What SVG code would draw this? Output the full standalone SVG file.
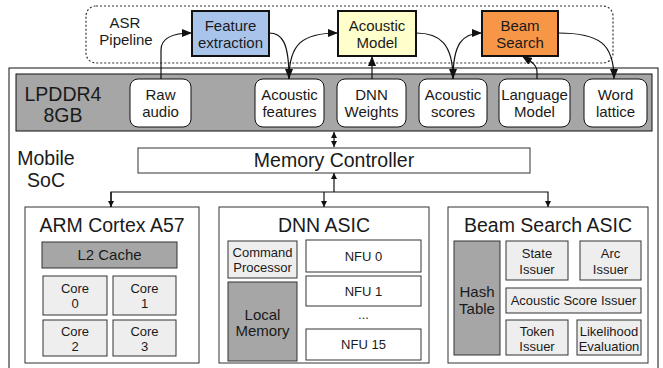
<svg xmlns="http://www.w3.org/2000/svg" width="663" height="368" viewBox="0 0 663 368">
  <style>
    text { font-family: "Liberation Sans", Arial, sans-serif; fill: #1a1a1a; text-anchor: middle; }
    .t20 { font-size: 19.5px; }
    .t15 { font-size: 15px; }
    .t13 { font-size: 13px; }
    .box { fill: #ffffff; stroke: #333333; stroke-width: 1; }
    .mem { fill: #ffffff; stroke: #111111; stroke-width: 1; }
    .gray { fill: #a6a6a6; stroke: #333333; stroke-width: 1; }
    .light { fill: #eeeeee; stroke: #333333; stroke-width: 1; }
    .stage { stroke: #111111; stroke-width: 2; }
    .flow { fill: none; stroke: #111111; stroke-width: 1.2; }
    .bus { fill: none; stroke: #111111; stroke-width: 1.2; }
  </style>
  <defs>
    <marker id="arr" viewBox="0 0 10 8" refX="10" refY="4" markerWidth="10" markerHeight="8" markerUnits="userSpaceOnUse" orient="auto">
      <path d="M0,0 L10,4 L0,8 Z" fill="#111111"/>
    </marker>
    <marker id="arrS" viewBox="0 0 6 6" refX="6" refY="3" markerWidth="6" markerHeight="6" markerUnits="userSpaceOnUse" orient="auto">
      <path d="M0,0 L6,3 L0,6 Z" fill="#111111"/>
    </marker>
    <marker id="arrSs" viewBox="0 0 6 6" refX="0" refY="3" markerWidth="6" markerHeight="6" markerUnits="userSpaceOnUse" orient="auto">
      <path d="M6,0 L0,3 L6,6 Z" fill="#111111"/>
    </marker>
  </defs>

  <!-- ASR pipeline frame -->
  <g id="asr-pipeline">
    <rect x="86" y="6" width="527" height="57" rx="10" fill="none" stroke="#333333" stroke-width="1.2" stroke-dasharray="2,2"/>
    <text class="t15" x="125" y="28">ASR</text>
    <text class="t15" x="126" y="45">Pipeline</text>
  </g>

  <!-- Mobile SoC frame -->
  <g id="mobile-soc">
    <rect x="9" y="68" width="649" height="310" fill="#ffffff" stroke="#111111" stroke-width="1"/>
    <text class="t20" x="46" y="165">Mobile</text>
    <text class="t20" x="46" y="187">SoC</text>
  </g>

  <!-- Pipeline stages -->
  <g id="feature-extraction">
    <rect class="stage" x="192" y="11" width="77" height="45" fill="#a9c4eb"/>
    <text class="t15" x="230.5" y="31">Feature</text>
    <text class="t15" x="230.5" y="48">extraction</text>
  </g>
  <g id="acoustic-model">
    <rect class="stage" x="338" y="11" width="78" height="45" fill="#ffffcc"/>
    <text class="t15" x="377" y="31">Acoustic</text>
    <text class="t15" x="377" y="48">Model</text>
  </g>
  <g id="beam-search">
    <rect class="stage" x="482" y="11" width="76" height="45" fill="#f79646"/>
    <text class="t15" x="520" y="31">Beam</text>
    <text class="t15" x="520" y="48">Search</text>
  </g>

  <!-- LPDDR4 memory -->
  <g id="lpddr4">
    <rect x="16" y="74" width="636" height="57" fill="#a6a6a6" stroke="#111111" stroke-width="1"/>
    <text class="t20" x="63" y="101">LPDDR4</text>
    <text class="t20" x="63" y="122">8GB</text>
  </g>
  <g id="raw-audio">
    <rect class="mem" x="130" y="79" width="61" height="48" rx="8"/>
    <text class="t15" x="160.5" y="100">Raw</text>
    <text class="t15" x="160.5" y="117">audio</text>
  </g>
  <g id="acoustic-features">
    <rect class="mem" x="255" y="79" width="69" height="48" rx="8"/>
    <text class="t15" x="289.5" y="100">Acoustic</text>
    <text class="t15" x="289.5" y="117">features</text>
  </g>
  <g id="dnn-weights">
    <rect class="mem" x="337" y="79" width="69" height="48" rx="8"/>
    <text class="t15" x="371.5" y="100">DNN</text>
    <text class="t15" x="371.5" y="117">Weights</text>
  </g>
  <g id="acoustic-scores">
    <rect class="mem" x="419" y="79" width="68" height="48" rx="8"/>
    <text class="t15" x="453" y="100">Acoustic</text>
    <text class="t15" x="453" y="117">scores</text>
  </g>
  <g id="language-model">
    <rect class="mem" x="499" y="79" width="71" height="48" rx="8"/>
    <text class="t15" x="534.5" y="100">Language</text>
    <text class="t15" x="534.5" y="117">Model</text>
  </g>
  <g id="word-lattice">
    <rect class="mem" x="584" y="79" width="63" height="48" rx="8"/>
    <text class="t15" x="615.5" y="100">Word</text>
    <text class="t15" x="615.5" y="117">lattice</text>
  </g>

  <!-- Memory controller -->
  <g id="memory-controller">
    <rect class="box" x="138" y="148" width="392" height="25"/>
    <text class="t20" x="334" y="167">Memory Controller</text>
  </g>

  <!-- ARM Cortex A57 -->
  <g id="arm-cortex">
    <rect class="box" x="25" y="207" width="174" height="156"/>
    <text class="t20" x="112" y="232">ARM Cortex A57</text>
    <rect class="gray" x="42" y="242" width="135" height="26"/>
    <text class="t15" x="109.5" y="260">L2 Cache</text>
    <rect class="light" x="43" y="276" width="64" height="39"/>
    <text class="t13" x="75" y="293">Core</text>
    <text class="t13" x="75" y="308">0</text>
    <rect class="light" x="113" y="276" width="63" height="39"/>
    <text class="t13" x="144.5" y="293">Core</text>
    <text class="t13" x="144.5" y="308">1</text>
    <rect class="light" x="43" y="320" width="64" height="36"/>
    <text class="t13" x="75" y="336">Core</text>
    <text class="t13" x="75" y="351">2</text>
    <rect class="light" x="113" y="320" width="63" height="36"/>
    <text class="t13" x="144.5" y="336">Core</text>
    <text class="t13" x="144.5" y="351">3</text>
  </g>

  <!-- DNN ASIC -->
  <g id="dnn-asic">
    <rect class="box" x="219" y="207" width="210" height="156"/>
    <text class="t20" x="324" y="232">DNN ASIC</text>
    <rect class="light" x="228" y="241" width="69" height="37"/>
    <text class="t13" x="262.5" y="257">Command</text>
    <text class="t13" x="262.5" y="272">Processor</text>
    <rect class="gray" x="228" y="282" width="69" height="79"/>
    <text class="t15" x="262.5" y="320">Local</text>
    <text class="t15" x="262.5" y="336">Memory</text>
    <rect class="box" x="306" y="240" width="115" height="32"/>
    <text class="t13" x="363.5" y="261">NFU 0</text>
    <rect class="box" x="306" y="276" width="115" height="30"/>
    <text class="t13" x="363.5" y="296">NFU 1</text>
    <text class="t13" x="363.5" y="319">...</text>
    <rect class="box" x="306" y="329" width="115" height="31"/>
    <text class="t13" x="363.5" y="349">NFU 15</text>
  </g>

  <!-- Beam Search ASIC -->
  <g id="beam-search-asic">
    <rect class="box" x="448" y="207" width="200" height="156"/>
    <text class="t20" x="548" y="232">Beam Search ASIC</text>
    <rect class="gray" x="454" y="241" width="46" height="114"/>
    <text class="t15" x="477" y="297">Hash</text>
    <text class="t15" x="477" y="314">Table</text>
    <rect class="light" x="506" y="241" width="62" height="39"/>
    <text class="t13" x="537" y="258">State</text>
    <text class="t13" x="537" y="274">Issuer</text>
    <rect class="light" x="580" y="241" width="61" height="39"/>
    <text class="t13" x="610.5" y="258">Arc</text>
    <text class="t13" x="610.5" y="274">Issuer</text>
    <rect class="light" x="506" y="288" width="135" height="25"/>
    <text class="t13" x="573.5" y="305">Acoustic Score Issuer</text>
    <rect class="light" x="506" y="320" width="62" height="35"/>
    <text class="t13" x="537" y="336">Token</text>
    <text class="t13" x="537" y="351">Issuer</text>
    <rect class="light" x="577" y="320" width="64" height="35"/>
    <text class="t13" x="609" y="336">Likelihood</text>
    <text class="t13" x="609" y="351">Evaluation</text>
  </g>

  <!-- Connectors -->
  <g id="connectors">
    <path class="flow" d="M161,79 L161,50 C161,39 172,33 192,33" marker-end="url(#arr)"/>
    <path class="flow" d="M269,33 C282,33 289,42 289,79" marker-end="url(#arr)"/>
    <path class="flow" d="M289,79 C289,44 302,33 338,33" marker-end="url(#arr)"/>
    <path class="flow" d="M372,79 L372,56" marker-end="url(#arr)"/>
    <path class="flow" d="M416,33 C440,33 453,44 453,79" marker-end="url(#arr)"/>
    <path class="flow" d="M453,79 C453,44 462,33 482,33" marker-end="url(#arr)"/>
    <path class="flow" d="M537,79 L537,72 C537,64 530,61 522,56" marker-end="url(#arr)"/>
    <path class="flow" d="M558,33 C600,33 614,44 614,79" marker-end="url(#arr)"/>

    <path class="bus" d="M334,132 L334,147" marker-start="url(#arrSs)" marker-end="url(#arrS)"/>
    <path class="bus" d="M334,192 L334,173" marker-end="url(#arrS)"/>
    <path class="bus" d="M111,207 L111,192 L548,192 L548,207" marker-end="url(#arrS)"/>
    <path class="bus" d="M111,192 L111,207" marker-end="url(#arrS)"/>
    <path class="bus" d="M324,192 L324,207" marker-end="url(#arrS)"/>
  </g>
</svg>
